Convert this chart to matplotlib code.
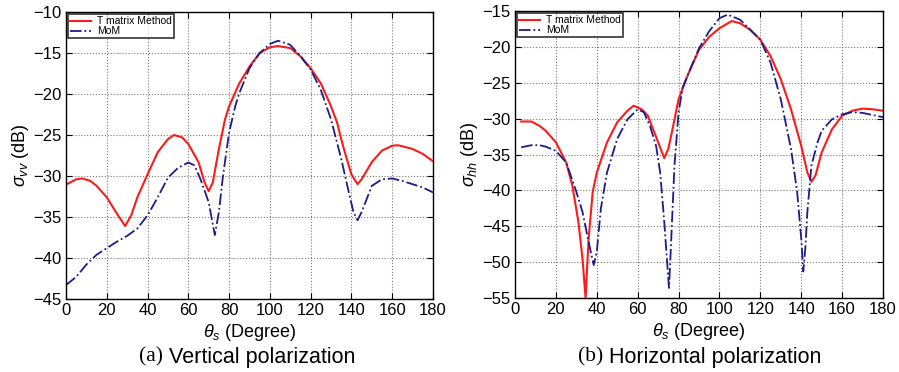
import matplotlib
matplotlib.use("Agg")
import matplotlib.pyplot as plt

# (a) polarisation verticale
va_tm_x = [0, 5, 8, 12, 15, 20, 25, 29, 32, 35, 40, 45, 50, 53, 57, 60, 65, 68, 70, 72, 75, 78, 80,
           85, 90, 95, 100, 104, 110, 115, 120, 125, 130, 133, 135, 137, 140, 143, 145, 150, 155,
           160, 163, 170, 175, 180]
va_tm_y = [-31.05, -30.4, -30.3, -30.6, -31.2, -32.6, -34.6, -36.1, -34.8, -32.6, -29.8, -27.1, -25.5,
           -25.0, -25.3, -26.1, -28.3, -30.8, -31.85, -30.8, -26.7, -23.1, -21.5, -18.7, -16.65, -15.0,
           -14.3, -14.15, -14.4, -15.4, -16.85, -18.7, -21.5, -23.5, -25.5, -27.3, -29.8, -31.0, -30.4,
           -28.3, -26.9, -26.3, -26.25, -26.7, -27.3, -28.2]
va_mom_x = [0, 5, 10, 15, 20, 25, 30, 35, 40, 45, 50, 55, 60, 63, 66, 70, 73, 75, 77, 80, 83, 85, 90,
            95, 100, 104, 110, 115, 120, 125, 130, 135, 138, 141, 143, 145, 150, 155, 160, 165, 170,
            175, 180]
va_mom_y = [-43.3, -42.3, -40.8, -39.6, -38.8, -38.0, -37.3, -36.4, -34.8, -32.6, -30.2, -29.0, -28.35,
            -28.7, -30.4, -33.2, -37.2, -34.4, -30.0, -24.7, -21.5, -19.9, -16.85, -15.0, -13.9, -13.5,
            -14.0, -15.4, -17.0, -19.5, -23.1, -27.9, -31.2, -34.4, -35.4, -34.4, -31.2, -30.4, -30.3,
            -30.6, -31.0, -31.4, -32.0]

# (b) polarisation horizontale
hb_tm_x = [3, 8, 12, 15, 20, 25, 28, 31, 33, 34.5, 36, 38, 40, 45, 50, 55, 58, 62, 65, 70, 73, 75, 77,
           80, 83, 85, 90, 95, 100, 106, 110, 115, 120, 125, 130, 135, 140, 143, 145, 147, 150, 155,
           160, 165, 170, 175, 180]
hb_tm_y = [-30.4, -30.4, -31.0, -31.7, -33.3, -36.1, -39.3, -44.4, -49.5, -55.0, -46.7, -40.2, -37.5,
           -33.3, -30.5, -28.9, -28.2, -28.7, -29.6, -33.3, -35.5, -34.2, -31.5, -27.3, -25.0, -23.6,
           -20.4, -18.6, -17.4, -16.4, -16.7, -17.6, -19.0, -21.3, -24.5, -28.7, -33.8, -37.5, -38.8,
           -37.9, -34.7, -31.5, -29.6, -28.9, -28.6, -28.7, -28.9]
hb_mom_x = [3, 8, 12, 15, 20, 25, 30, 33, 35, 37, 38.5, 40, 42, 45, 50, 55, 60, 63, 66, 69, 71, 73,
            74.5, 75.3, 76, 77, 78, 80, 82, 85, 90, 95, 100, 104, 110, 115, 120, 125, 130, 135, 138,
            140, 141, 142, 143, 145, 148, 150, 155, 160, 165, 170, 175, 180]
hb_mom_y = [-34.0, -33.7, -33.7, -33.9, -34.5, -36.1, -40.2, -43.0, -45.8, -48.5, -50.4, -48.5, -42.5,
            -37.5, -32.8, -30.1, -28.7, -29.1, -31.0, -33.8, -37.5, -44.4, -50.4, -53.6, -49.5, -43.0,
            -36.5, -29.1, -25.7, -23.6, -20.2, -17.8, -16.0, -15.5, -16.2, -17.6, -19.0, -22.2, -27.3,
            -34.2, -40.2, -46.7, -51.3, -48.1, -43.0, -36.5, -33.3, -31.7, -30.1, -29.4, -29.1, -29.2,
            -29.5, -29.8]

x_ticks = list(range(0, 181, 20))
a_yticks = list(range(-45, -9, 5))
b_yticks = list(range(-55, -14, 5))

RED = "#ff1a1a"
NAVY = "#1c1c8a"

plt.rcParams["font.family"] = ["Liberation Sans", "DejaVu Sans"]
plt.rcParams["mathtext.fontset"] = "custom"
plt.rcParams["mathtext.rm"] = "Liberation Sans"
plt.rcParams["mathtext.it"] = "Liberation Sans:italic"

fig = plt.figure(figsize=(8.99, 3.72), dpi=100)
ax_a = fig.add_axes([0.0734, 0.1962, 0.4082, 0.7715])
ax_b = fig.add_axes([0.5729, 0.1989, 0.4093, 0.7715])


def style_axes(ax, yticks, ylabel):
    ax.set_xlim(0, 180)
    ax.set_ylim(yticks[0], yticks[-1])
    ax.set_xticks(x_ticks)
    ax.set_yticks(yticks)
    ax.tick_params(direction="in", labelsize=12, length=4, top=True, right=True, pad=3)
    ax.grid(True, linestyle=":", color="#777777", linewidth=0.8)
    for s in ax.spines.values():
        s.set_linewidth(1.0)
    ax.set_xlabel(r"$\theta_s$ (Degree)", fontsize=13, labelpad=3)
    ax.set_ylabel(ylabel, fontsize=13, labelpad=2)
    leg = ax.legend(loc="upper left", fontsize=7.5, frameon=True, fancybox=False,
                    borderaxespad=0.2, handlelength=2.0, labelspacing=0.0,
                    borderpad=0.2, handletextpad=0.6)
    leg.get_frame().set_edgecolor("black")
    leg.get_frame().set_linewidth(1.2)


ax_a.plot(va_tm_x, va_tm_y, color=RED, lw=1.5, label="T matrix Method")
ax_a.plot(va_mom_x, va_mom_y, color=NAVY, lw=1.3, ls="-.", label="MoM")
style_axes(ax_a, a_yticks, r"$\sigma_{vv}$ (dB)")

ax_b.plot(hb_tm_x, hb_tm_y, color=RED, lw=1.5, label="T matrix Method")
ax_b.plot(hb_mom_x, hb_mom_y, color=NAVY, lw=1.3, ls="-.", label="MoM")
style_axes(ax_b, b_yticks, r"$\sigma_{hh}$ (dB)")


def caption(xc, tag, text):
    fig.text(xc, 0.04, tag, family="Liberation Serif", fontsize=15.5, ha="right", va="center")
    fig.text(xc, 0.04, " " + text, fontsize=15.5, ha="left", va="center")


caption(0.181, "(a)", "Vertical polarization")
caption(0.671, "(b)", "Horizontal polarization")

fig.savefig("out.png", dpi=100)
